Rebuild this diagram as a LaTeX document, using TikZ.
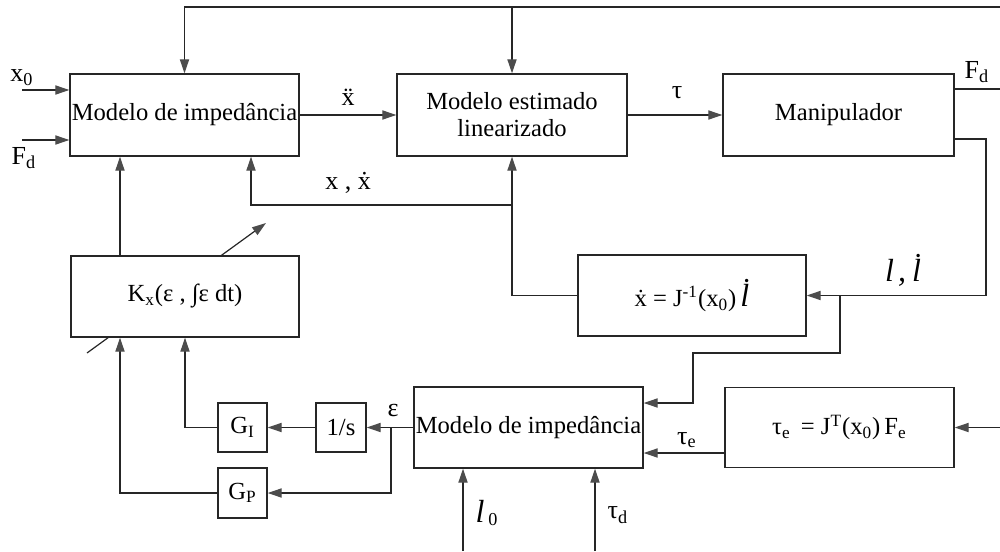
\documentclass[tikz,border=0pt]{standalone}
\usepackage{fontspec}
\setmainfont{Liberation Serif}
\usetikzlibrary{arrows.meta,calc}
\newcommand{\pxu}{0.5pt}
\tikzset{
  wire/.style={line width=0.6pt, draw=black!85},
  arr/.style={wire, -{Triangle[length=7pt,width=4.6pt,color=black!70]}},
  blk/.style={draw=black!85, line width=0.7pt, fill=white, inner sep=0pt, align=center,
    font=\fontsize{12.3}{13.5}\selectfont},
  lbl/.style={inner sep=0pt, font=\fontsize{13}{14}\selectfont},
  biglbl/.style={inner sep=0pt, font=\fontsize{16}{18}\selectfont\itshape},
}
\begin{document}
\begin{tikzpicture}[x=0.5pt, y=-0.5pt]
\useasboundingbox (0,0) rectangle (1000,551);
% diagonal (variable gain) arrow, behind K_x box
\coordinate (dg0) at (87,353);
\coordinate (dg1) at (266,223);
\draw[arr] (dg0) -- (dg1);

% blocks
\node[blk, minimum width=229*\pxu, minimum height=82*\pxu] (MI1) at (184.5,115) {Modelo de impedância};
\node[blk, minimum width=230*\pxu, minimum height=82*\pxu] (MEL) at (512,115) {Modelo estimado\\linearizado};
\node[blk, minimum width=231*\pxu, minimum height=82*\pxu] (MAN) at (838.5,115) {Manipulador};
\node[blk, minimum width=228*\pxu, minimum height=81*\pxu] (J) at (692,295.5) {\.x = J\textsuperscript{-1}(x\textsubscript{0})\,{\fontsize{16}{18}\selectfont\itshape\.l}};
\node[blk, minimum width=228*\pxu, minimum height=81*\pxu] (KX) at (185,296.5) {K\textsubscript{x}(ε , ∫ε dt)};
\node[blk, minimum width=49*\pxu, minimum height=49*\pxu] (GI) at (242.5,427.5) {G\textsubscript{I}};
\node[blk, minimum width=49*\pxu, minimum height=50*\pxu] (GP) at (242.5,493) {G\textsubscript{P}};
\node[blk, minimum width=50*\pxu, minimum height=49*\pxu] (S) at (341,427.5) {1/s};
\node[blk, minimum width=229*\pxu, minimum height=81*\pxu] (MI2) at (528.5,427.5) {Modelo de impedância};
\node[blk, minimum width=229*\pxu, minimum height=80*\pxu] (TE) at (839.5,427.5) {τ\textsubscript{e} \,= J\textsuperscript{T}(x\textsubscript{0})\,F\textsubscript{e}};

% helper coordinates
\coordinate (topR) at (1000,7);
\coordinate (x0in) at (22,90);
\coordinate (fdin) at (22,140);
\coordinate (fdout) at (1000,89);
\coordinate (m2a) at (954,139);
\coordinate (m2b) at (986,139);
\coordinate (m2c) at (986,295.5);
\coordinate (jn1) at (840,295.5);
\coordinate (jn2) at (840,353);
\coordinate (jn3) at (693,353);
\coordinate (jn4) at (693,403);
\coordinate (jl) at (512,295.5);
\coordinate (xx1) at (512,205);
\coordinate (xx2) at (251,205);
\coordinate (c120) at (120,0);
\coordinate (c185) at (185,0);
\coordinate (eps) at (391,427.5);
\coordinate (l0in) at (463,551);
\coordinate (tdin) at (595,551);
\coordinate (tein) at (1000,427.5);
\coordinate (te1) at (725,453);

% connectors
\draw[arr] (topR) -| (MI1.north);
\draw[arr] (MEL.north |- topR) -- (MEL.north);
\draw[arr] (x0in) -- (x0in -| MI1.west);
\draw[arr] (fdin) -- (fdin -| MI1.west);
\draw[arr] (MI1.east) -- (MEL.west);
\draw[arr] (MEL.east) -- (MAN.west);
\draw[wire] (fdout -| MAN.east) -- (fdout);
\draw[arr] (m2a) -- (m2b) -- (m2c) -- (J.east);
\draw[arr] (jn1) -- (jn2) -- (jn3) -- (jn4) -- (jn4 -| MI2.east);
\draw[arr] (J.west) -- (jl) -- (MEL.south);
\draw[arr] (xx1) -- (xx2) -- (xx2 |- MI1.south);
\draw[arr] (c120 |- KX.north) -- (c120 |- MI1.south);
\draw[arr] (MI2.west) -- (S.east);
\draw[arr] (S.west) -- (GI.east);
\draw[arr] (eps) |- (GP.east);
\draw[arr] (GI.west) -| (c185 |- KX.south);
\draw[arr] (GP.west) -| (c120 |- KX.south);
\draw[arr] (l0in) -- (l0in |- MI2.south);
\draw[arr] (tdin) -- (tdin |- MI2.south);
\draw[arr] (tein) -- (TE.east);
\draw[arr] (te1) -- (te1 -| MI2.east);

% labels
\node[lbl] (Lx0) at (22,78) {x\textsubscript{0}};
\node[lbl] (Lfd) at (24,158) {F\textsubscript{d}};
\node[lbl] (Lxdd) at (348,97) {\"x};
\node[lbl] (Ltau) at (677,93) {τ};
\node[lbl] (Lfd2) at (977,72) {F\textsubscript{d}};
\node[biglbl] (Lll) at (903,270) {l\kern2pt,\kern3pt\.l};
\node[lbl] (Lxxd) at (348,183) {x , \.x};
\node[lbl] (Leps) at (393,410) {ε};
\node[lbl] (Lte) at (687,440) {τ\textsubscript{e}};
\node[lbl] (Ll0) at (487,513) {{\fontsize{16}{18}\selectfont\itshape l}\kern2pt\textsubscript{0}};
\node[lbl] (Ltd) at (618,515) {τ\textsubscript{d}};
\end{tikzpicture}
\end{document}
